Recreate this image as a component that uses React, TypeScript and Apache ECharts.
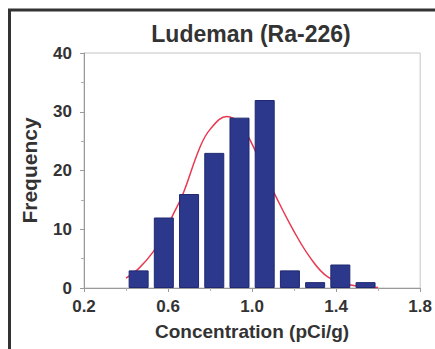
import React, { useEffect, useRef } from "react";
import * as echarts from "echarts";

// Histogram bins (bin centres, pCi/g) and counts
const binCenters = [0.46, 0.58, 0.7, 0.82, 0.94, 1.06, 1.18, 1.3, 1.42, 1.54];
const counts = [3, 12, 16, 23, 29, 32, 3, 1, 4, 1];

// Fitted normal curve, sampled points (concentration, frequency)
const curveX = [0.4, 0.46, 0.53, 0.58, 0.62, 0.67, 0.75, 0.8, 0.88, 0.94, 1.0, 1.06, 1.11, 1.2, 1.28, 1.36, 1.47, 1.6];
const curveY = [1.7, 3.3, 6.2, 9.2, 12.2, 15.9, 23.8, 27.0, 29.2, 28.0, 24.5, 19.6, 15.8, 9.6, 5.0, 1.9, 0.5, 0.1];

const xTicks = [0.2, 0.6, 1.0, 1.4, 1.8];
const yTicks = [0, 10, 20, 30, 40];

const FONT = "'Liberation Sans', Arial, sans-serif";

export default function App() {
  const ref = useRef<HTMLDivElement>(null);

  useEffect(() => {
    if (!ref.current) return;
    const chart = echarts.init(ref.current, null, { renderer: "svg" });
    chart.setOption({
      animation: false,
      backgroundColor: "#ffffff",
      grid: {
        left: 84,
        right: 14,
        top: 53,
        bottom: 61,
        show: true,
        borderColor: "#c4c4c4",
        borderWidth: 1,
        backgroundColor: "transparent",
      },
      xAxis: {
        type: "value",
        min: xTicks[0],
        max: xTicks[xTicks.length - 1],
        interval: 0.4,
        name: "Concentration (pCi/g)",
        nameLocation: "middle",
        nameGap: 34,
        nameTextStyle: { fontFamily: FONT, fontWeight: "bold", fontSize: 19, color: "#333333" },
        axisLine: { show: true, onZero: false, lineStyle: { color: "#9a9a9a", width: 1 } },
        axisTick: { show: true, length: 4, lineStyle: { color: "#9a9a9a" } },
        minorTick: { show: true, splitNumber: 2, length: 3, lineStyle: { color: "#b0b0b0" } },
        splitLine: { show: false },
        axisLabel: {
          margin: 10,
          fontFamily: FONT,
          fontWeight: "bold",
          fontSize: 17,
          color: "#333333",
          formatter: (v: number) => v.toFixed(1),
        },
      },
      yAxis: {
        type: "value",
        min: yTicks[0],
        max: yTicks[yTicks.length - 1],
        interval: 10,
        name: "Frequency",
        nameLocation: "middle",
        nameGap: 44,
        nameTextStyle: { fontFamily: FONT, fontWeight: "bold", fontSize: 21, color: "#333333" },
        axisLine: { show: true, lineStyle: { color: "#9a9a9a", width: 1 } },
        axisTick: { show: true, length: 4, lineStyle: { color: "#9a9a9a" } },
        minorTick: { show: true, splitNumber: 2, length: 3, lineStyle: { color: "#b0b0b0" } },
        splitLine: { show: false },
        axisLabel: {
          margin: 12,
          fontFamily: FONT,
          fontWeight: "bold",
          fontSize: 17,
          color: "#333333",
        },
      },
      series: [
        {
          type: "line",
          data: curveX.map((x, i) => [x, curveY[i]]),
          smooth: 0.4,
          symbol: "none",
          z: 1,
          lineStyle: { color: "#e8394f", width: 1.5 },
        },
        {
          type: "bar",
          data: binCenters.map((x, i) => [x, counts[i]]),
          barWidth: 20,
          z: 2,
          itemStyle: { color: "#2c388c", borderColor: "#1f2870", borderWidth: 1 },
        },
      ],
      graphic: [
        {
          type: "text",
          x: 251,
          y: 34,
          silent: true,
          style: {
            text: "Ludeman (Ra-226)",
            fontFamily: FONT,
            fontWeight: "bold",
            fontSize: 23,
            fill: "#333333",
            align: "center",
            verticalAlign: "middle",
          },
        },
        {
          type: "polyline",
          shape: { points: [[9.5, 349], [9.5, 10], [435, 10]] },
          style: { stroke: "#333333", lineWidth: 3, fill: null },
          silent: true,
        },
      ],
    });
    return () => chart.dispose();
  }, []);

  return (
    <div style={{ position: "absolute", left: 0, top: 0 }}>
      <div ref={ref} style={{ width: 435, height: 349 }} />
    </div>
  );
}
